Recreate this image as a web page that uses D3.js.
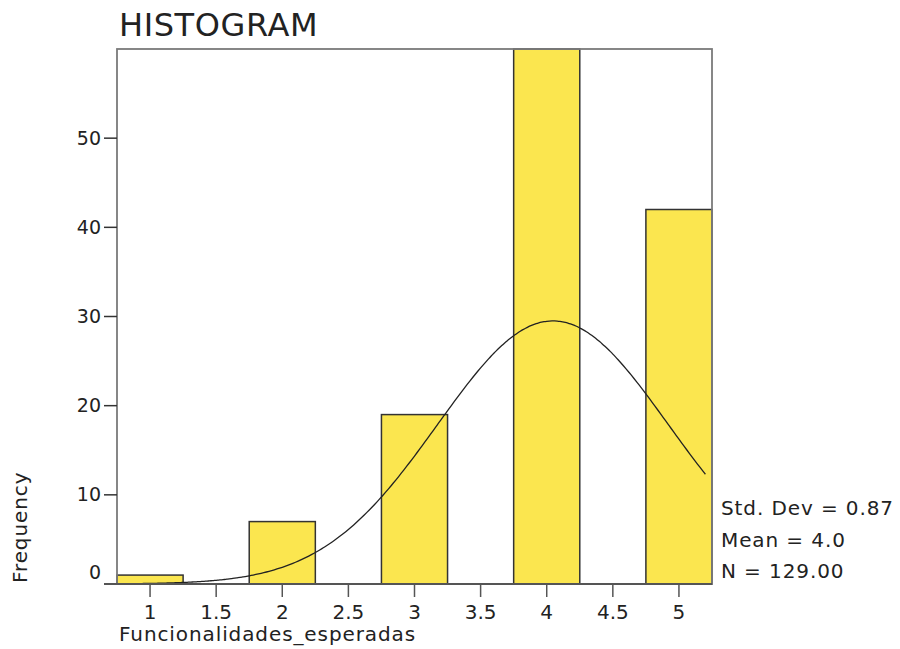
<!DOCTYPE html>
<html><head><meta charset="utf-8">
<script src="https://cdn.jsdelivr.net/npm/d3@7"></script>
<style>body{margin:0;background:#fff}svg{display:block}text{font-family:"DejaVu Sans",sans-serif;fill:#222}</style>
</head><body><svg id="c" width="900" height="649"></svg>
<script>
const binCenters = [1, 2, 3, 4, 5];
const frequencies = [1, 7, 19, 60, 42];
const binWidth = [0.5];
const xTicks = [1, 1.5, 2, 2.5, 3, 3.5, 4, 4.5, 5];
const yTicks = [0, 10, 20, 30, 40, 50];
const fitStats = [4.047, 0.872, 129]; // mean, sd, n
const statLabels = ["Std. Dev = 0.87", "Mean = 4.0", "N = 129.00"];

const svg = d3.select("#c");
const L = 117, R = 712, T = 49, B = 584;
const x = d3.scaleLinear().domain([0.75, 5.25]).range([L, R]);
const y = d3.scaleLinear().domain([0, 60]).range([B, T]);

// bars
svg.append("g").selectAll("rect").data(binCenters).join("rect")
  .attr("x", d => x(d - binWidth[0] / 2))
  .attr("width", d => x(d + binWidth[0] / 2) - x(d - binWidth[0] / 2))
  .attr("y", (d, i) => y(frequencies[i]))
  .attr("height", (d, i) => y(0) - y(frequencies[i]))
  .attr("fill", "#fbe64f").attr("stroke", "#333").attr("stroke-width", 1.5);

// normal curve
const [mu, sd, n] = fitStats;
const curveXs = d3.range(0.8, 5.2001, 0.02);
const pdf = v => n * binWidth[0] * Math.exp(-0.5 * ((v - mu) / sd) ** 2) / (sd * Math.sqrt(2 * Math.PI));
svg.append("path").datum(curveXs)
  .attr("d", d3.line().x(d => x(d)).y(d => y(pdf(d))).curve(d3.curveBasis))
  .attr("fill", "none").attr("stroke", "#222").attr("stroke-width", 1.3);

// frame
svg.append("rect").attr("x", L).attr("y", T).attr("width", R - L).attr("height", B - T)
  .attr("fill", "none").attr("stroke", "#7a7a7a").attr("stroke-width", 1.8);
// baseline extension
svg.append("line").attr("x1", 104).attr("x2", R).attr("y1", B).attr("y2", B)
  .attr("stroke", "#555").attr("stroke-width", 1.8);

// y axis ticks
const yg = svg.append("g");
yg.selectAll("line").data(yTicks.filter(d => d > 0)).join("line")
  .attr("x1", 104).attr("x2", L).attr("y1", d => y(d)).attr("y2", d => y(d))
  .attr("stroke", "#333").attr("stroke-width", 1.5);
yg.selectAll("text").data(yTicks).join("text")
  .attr("x", 101).attr("y", d => d === 0 ? y(d) - 12 : y(d))
  .attr("dy", "0.35em").attr("text-anchor", "end").attr("font-size", 19)
  .text(d => d);

// x axis ticks
const xg = svg.append("g");
xg.selectAll("line").data(xTicks).join("line")
  .attr("x1", d => x(d)).attr("x2", d => x(d)).attr("y1", B + 1).attr("y2", B + 13)
  .attr("stroke", "#555").attr("stroke-width", 1.5);
xg.selectAll("text").data(xTicks).join("text")
  .attr("x", d => x(d)).attr("y", 619).attr("text-anchor", "middle").attr("font-size", 20)
  .text(d => d);

// titles
svg.append("text").attr("x", 119).attr("y", 36).attr("font-size", 32).attr("letter-spacing", 0.6).text("HISTOGRAM");
svg.append("text").attr("x", 119).attr("y", 641).attr("font-size", 20).attr("letter-spacing", 0.9)
  .text("Funcionalidades_esperadas");
svg.append("text").attr("transform", "translate(27,583) rotate(-90)").attr("font-size", 20)
  .attr("letter-spacing", 0.9).text("Frequency");

// stats
svg.append("g").selectAll("text").data(statLabels).join("text")
  .attr("x", 721).attr("y", (d, i) => 515 + i * 31.5).attr("font-size", 20).attr("letter-spacing", 0.9)
  .text(d => d);
</script></body></html>
